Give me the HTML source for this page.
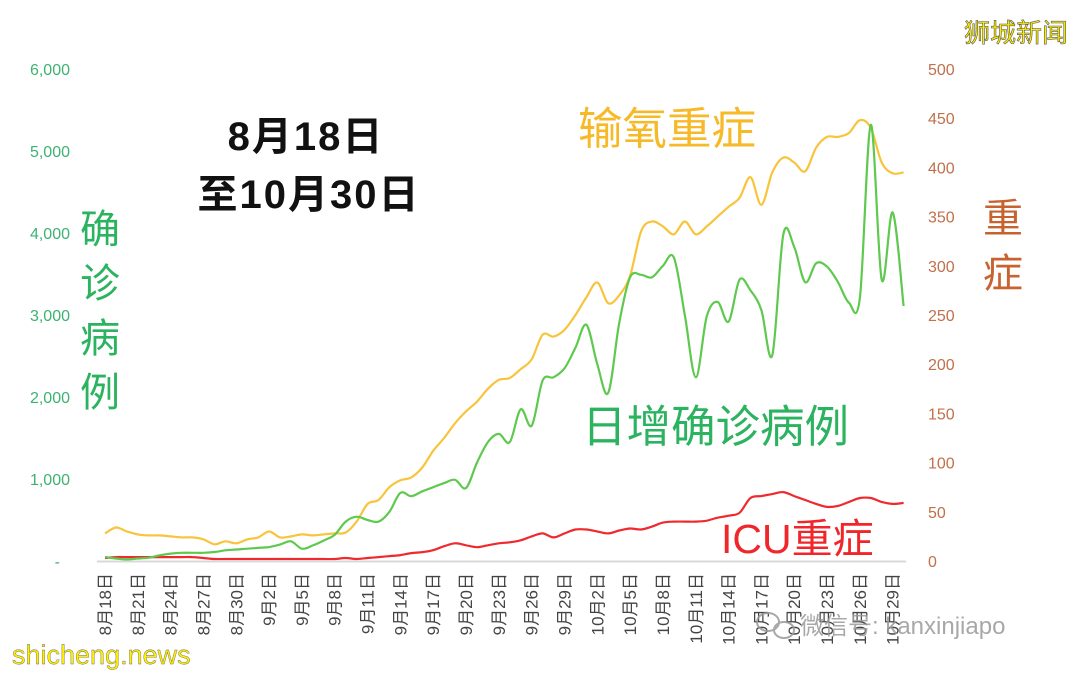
<!DOCTYPE html>
<html><head><meta charset="utf-8">
<style>
html,body{margin:0;padding:0;background:#fff;}
svg{display:block;font-family:"Liberation Sans","Noto Sans CJK SC",sans-serif;}
</style></head>
<body>
<svg id="chart" width="1080" height="675" viewBox="0 0 1080 675" xmlns="http://www.w3.org/2000/svg">
<rect width="1080" height="675" fill="#fff"/>
<g id="left-ticks"></g>
<g id="right-ticks"></g>
<g id="x-labels"></g>
<line x1="97" y1="561.5" x2="906" y2="561.5" stroke="#d9d9d9" stroke-width="2"/>
<g id="series"></g>
<text x="306" y="150" font-size="40" font-weight="bold" text-anchor="middle" fill="#111" letter-spacing="2">8月18日</text>
<text x="309" y="208" font-size="40" font-weight="bold" text-anchor="middle" fill="#111" letter-spacing="2">至10月30日</text>
<text x="578" y="144" font-size="44.5" fill="#f6b928">输氧重症</text>
<text x="582" y="442" font-size="44.5" fill="#2bb360">日增确诊病例</text>
<text x="721" y="553" font-size="41" fill="#f0262b">ICU重症</text>
<g font-size="40" fill="#2bb360" text-anchor="middle">
<text x="100" y="243">确</text><text x="100" y="297">诊</text><text x="100" y="352">病</text><text x="100" y="406">例</text>
</g>
<g font-size="40" fill="#c8622f" text-anchor="middle">
<text x="1003" y="232">重</text><text x="1003" y="287">症</text>
</g>
<text x="1068" y="42" font-size="26" text-anchor="end" fill="#ffee00" stroke="#555" stroke-width="0.6">狮城新闻</text>
<text x="12" y="664" font-size="27" fill="#ffee00" stroke="#666" stroke-width="0.4">shicheng.news</text>
<g opacity="0.85">
<ellipse cx="768" cy="622" rx="11" ry="9" fill="none" stroke="#999" stroke-width="2"/>
<ellipse cx="784" cy="630" rx="10" ry="8" fill="none" stroke="#999" stroke-width="2"/>
<text x="800" y="634" font-size="24" fill="#999">微信号: kanxinjiapo</text>
</g>
</svg>
<script>
const dates = [];
const cases = [50,30,20,30,40,70,90,100,100,100,110,130,140,150,160,170,200,240,150,190,250,320,480,540,500,480,600,830,790,850,900,950,990,890,1200,1450,1550,1450,1850,1650,2200,2240,2350,2600,2880,2400,2050,2900,3460,3490,3460,3600,3700,3000,2240,2980,3160,2920,3430,3300,3060,2510,3980,3830,3400,3630,3590,3400,3150,3210,5320,3430,4250,3110];
const oxygen = [28,34,30,27,26,26,25,24,24,22,17,20,18,22,24,30,24,25,27,26,27,28,29,40,58,62,75,82,85,95,112,125,140,152,162,175,184,186,195,205,230,228,235,250,268,283,262,270,290,335,345,340,332,345,332,340,350,360,369,390,362,395,410,405,396,420,431,431,435,448,440,405,394,395];
const icu = [3,4,4,4,4,4,4,4,4,3,2,2,2,2,2,2,2,2,2,2,2,2,3,2,3,4,5,6,8,9,11,15,18,16,14,16,18,19,21,25,28,24,28,32,32,30,28,31,33,32,35,39,40,40,40,41,44,46,49,64,66,68,70,66,62,58,55,56,60,64,64,60,58,59];
const leftTicks = [0,1000,2000,3000,4000,5000,6000];
const leftTickLabels = ["-","1,000","2,000","3,000","4,000","5,000","6,000"];
const rightTicks = [0,50,100,150,200,250,300,350,400,450,500];

(function(){
  const mdays=[["8",18,31],["9",1,30],["10",1,30]];
  for(const [m,s,e] of mdays){for(let d=s;d<=e;d++)dates.push(m+"月"+d+"日");}
})();
const NS="http://www.w3.org/2000/svg";
const x = i => 105 + i*10.94;
const yL = v => 561 - v*(492/6000);
const yR = v => 561 - v*(492/500);
function mk(tag,attrs,parent){const e=document.createElementNS(NS,tag);for(const k in attrs)e.setAttribute(k,attrs[k]);parent.appendChild(e);return e;}
const lt=document.getElementById('left-ticks');
leftTicks.forEach((v,i)=>{
  const t=mk('text',{x:70,y:yL(v)+6,'font-size':16,'text-anchor':'end',fill:'#3cb371'},lt);
  
  
  t.textContent=leftTickLabels[i];
  if(v===0)t.setAttribute('x',60);
});
const rt=document.getElementById('right-ticks');
rightTicks.forEach(v=>{
  const t=mk('text',{x:928,y:yR(v)+6,'font-size':16,fill:'#c0704a'},rt);
  
  
  t.textContent=v;
});
const xl=document.getElementById('x-labels');
dates.forEach((d,i)=>{
  if(i%3!==0)return;
  const t=mk('text',{transform:`translate(${x(i)+6},573) rotate(-90)`,'font-size':17,'text-anchor':'end',fill:'#444'},xl);
  
  
  t.textContent=d;
});
function smooth(pts){
  let d=`M${pts[0][0]},${pts[0][1]}`;
  for(let i=0;i<pts.length-1;i++){
    const p0=pts[i-1]||pts[i],p1=pts[i],p2=pts[i+1],p3=pts[i+2]||p2;
    const c1=[p1[0]+(p2[0]-p0[0])/6,p1[1]+(p2[1]-p0[1])/6];
    const c2=[p2[0]-(p3[0]-p1[0])/6,p2[1]-(p3[1]-p1[1])/6];
    d+=` C${c1[0].toFixed(1)},${c1[1].toFixed(1)} ${c2[0].toFixed(1)},${c2[1].toFixed(1)} ${p2[0].toFixed(1)},${p2[1].toFixed(1)}`;
  }
  return d;
}
const sg=document.getElementById('series');
const p1=mk('path',{d:smooth(icu.map((v,i)=>[x(i),yR(v)])),fill:'none',stroke:'#ee2a2e','stroke-width':2.2},sg);


const p2=mk('path',{d:smooth(oxygen.map((v,i)=>[x(i),yR(v)])),fill:'none',stroke:'#f8c43c','stroke-width':2.2},sg);


const p3=mk('path',{d:smooth(cases.map((v,i)=>[x(i),yL(v)])),fill:'none',stroke:'#5ec94e','stroke-width':2.2},sg);


</script>
</body></html>
